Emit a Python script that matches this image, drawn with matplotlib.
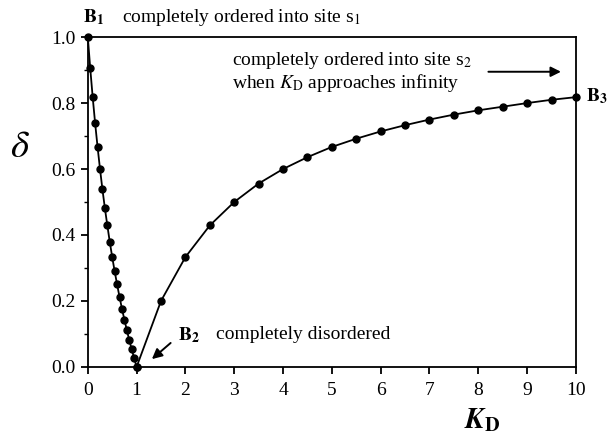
import matplotlib
matplotlib.use("Agg")
import matplotlib.pyplot as plt
from matplotlib.ticker import MultipleLocator, FormatStrFormatter

plt.rcParams["font.family"] = "Liberation Serif"
plt.rcParams["mathtext.fontset"] = "stix"

# K_D < 1 branch
k_left = [0.0, 0.05, 0.1, 0.15, 0.2, 0.25, 0.3, 0.35, 0.4, 0.45, 0.5,
          0.55, 0.6, 0.65, 0.7, 0.75, 0.8, 0.85, 0.9, 0.95, 1.0]
d_left = [1.0, 0.905, 0.818, 0.739, 0.667, 0.600, 0.538, 0.481, 0.429, 0.379, 0.333,
          0.290, 0.250, 0.212, 0.176, 0.143, 0.111, 0.081, 0.053, 0.026, 0.0]

# K_D > 1 branch
k_right = [1.0, 1.5, 2.0, 2.5, 3.0, 3.5, 4.0, 4.5, 5.0, 5.5, 6.0,
           6.5, 7.0, 7.5, 8.0, 8.5, 9.0, 9.5, 10.0]
d_right = [0.0, 0.200, 0.333, 0.429, 0.500, 0.556, 0.600, 0.636, 0.667, 0.692, 0.714,
           0.733, 0.750, 0.765, 0.778, 0.789, 0.800, 0.810, 0.818]

fig = plt.figure(figsize=(6.14, 4.42), dpi=100)
ax = fig.add_axes([0.143, 0.170, 0.795, 0.746])

ax.plot(k_left, d_left, "-o", color="black", lw=1.3, ms=5, clip_on=False, zorder=3)
ax.plot(k_right, d_right, "-o", color="black", lw=1.3, ms=5, clip_on=False, zorder=3)

ax.set_xlim(0, 10)
ax.set_ylim(0, 1.0)
ax.xaxis.set_major_locator(MultipleLocator(1))
ax.yaxis.set_major_locator(MultipleLocator(0.2))
ax.yaxis.set_minor_locator(MultipleLocator(0.1))
ax.yaxis.set_major_formatter(FormatStrFormatter("%.1f"))
ax.tick_params(which="major", direction="out", length=5, width=1.3, labelsize=14)
ax.tick_params(which="minor", direction="out", length=3, width=1)
ax.tick_params(axis="x", pad=6)
ax.tick_params(axis="y", pad=4)
for s in ax.spines.values():
    s.set_linewidth(1.3)

ax.set_ylabel(r"$\delta$", fontsize=28, rotation=0)
ax.yaxis.set_label_coords(-0.14, 0.61)
ax.set_xlabel(r"$\mathbfit{K}_{\mathbf{D}}$", fontsize=21)
ax.xaxis.set_label_coords(0.808, -0.12)

fs = 14
ax.text(-0.1, 1.06, r"$\mathbf{B_1}$", fontsize=fs, ha="left", va="center")
ax.text(0.7, 1.06, r"completely ordered into site s$_\mathrm{1}$", fontsize=fs,
        ha="left", va="center")
ax.text(2.95, 0.93, r"completely ordered into site s$_\mathrm{2}$", fontsize=fs,
        ha="left", va="center")
ax.text(2.95, 0.862, r"when $K_\mathrm{D}$ approaches infinity", fontsize=fs,
        ha="left", va="center")
ax.annotate("", xy=(9.75, 0.895), xytext=(8.15, 0.895),
            arrowprops=dict(arrowstyle="-|>", color="black", lw=1.4,
                            mutation_scale=15))
ax.text(10.2, 0.82, r"$\mathbf{B_3}$", fontsize=fs, ha="left", va="center")
ax.text(1.85, 0.095, r"$\mathbf{B_2}$", fontsize=fs, ha="left", va="center")
ax.text(2.62, 0.097, "completely disordered", fontsize=fs, ha="left", va="center")
ax.annotate("", xy=(1.27, 0.018), xytext=(1.74, 0.078),
            arrowprops=dict(arrowstyle="-|>", color="black", lw=1.4,
                            mutation_scale=15))

fig.savefig("out.png", dpi=100)
